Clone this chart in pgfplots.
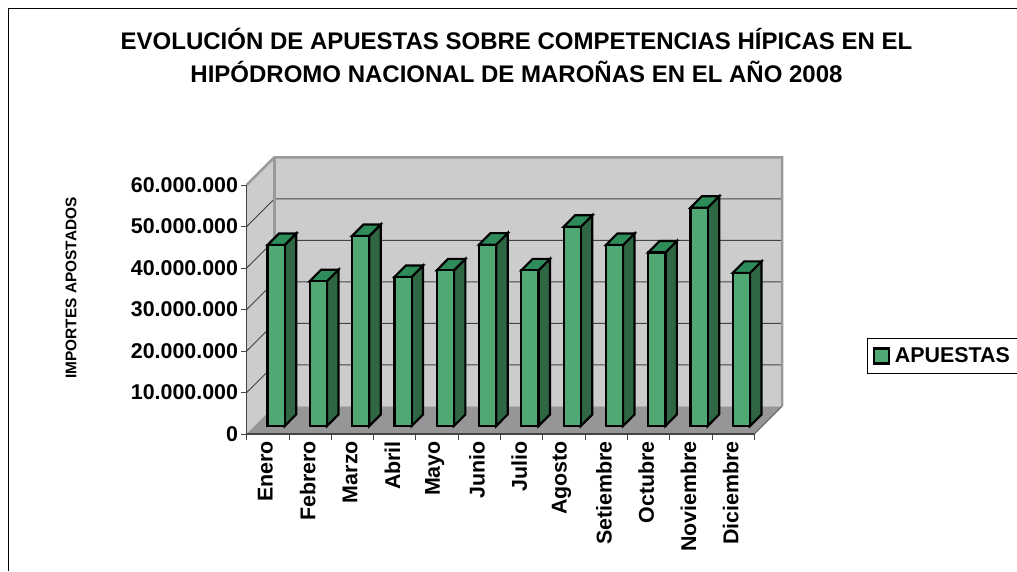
\documentclass[border=0pt]{standalone}
\usepackage{pgfplots}
\usepackage{pgfplotstable}
\usepackage{fontspec}
\setmainfont{Liberation Sans}
\pgfplotsset{compat=1.18}
\definecolor{frontc}{HTML}{50A874}
\definecolor{topc}{HTML}{2E8B5A}
\definecolor{sidec}{HTML}{2F6644}
\definecolor{wallc}{HTML}{CCCCCC}
\definecolor{floorc}{HTML}{969696}
\definecolor{edgec}{HTML}{9A9A9A}
\definecolor{gridc}{HTML}{444444}
% importes apostados, en millones
\pgfplotstableread{
i v
0 43.6
1 34.9
2 45.8
3 35.9
4 37.5
5 43.7
6 37.5
7 48.0
8 43.6
9 41.8
10 52.6
11 36.9
}\datos
\begin{document}
\begin{tikzpicture}[x=1pt,y=1pt]
\path[use as bounding box] (0,0) rectangle (1017,571);
\fill[white] (0,0) rectangle (1017,571);
\draw[black,line width=1pt] (8.5,0) -- (8.5,562.5) -- (1017,562.5);
\node[font=\fontsize{24}{33}\selectfont\bfseries,align=center,anchor=center] at (516.5,516)
 {EVOLUCIÓN DE APUESTAS SOBRE COMPETENCIAS HÍPICAS EN EL\\HIPÓDROMO NACIONAL DE MAROÑAS EN EL AÑO 2008};
\node[font=\fontsize{15.4}{18}\selectfont\bfseries,rotate=90,anchor=center] at (71,283) {IMPORTES APOSTADOS};
\begin{axis}[
  at={(246.7pt,137pt)},anchor=south west,scale only axis,
  width=507.6pt,height=249pt,
  xmin=0,xmax=12,ymin=0,ymax=60,clip=false,
  axis lines=left,axis line style={-,draw=gridc,line width=1.4pt},
  axis on top,
  xtick={0,...,12},xticklabels={},
  extra x ticks={0.5,1.5,...,11.5},
  extra x tick labels={Enero,Febrero,Marzo,Abril,Mayo,Junio,Julio,Agosto,Setiembre,Octubre,Noviembre,Diciembre},
  extra x tick style={major tick length=0pt,
    xticklabel style={rotate=90,anchor=east,xshift=-7pt,yshift=2.4pt,inner sep=0pt,
      font=\fontsize{21.4}{24}\selectfont\bfseries}},
  ytick={0,10,...,60},
  yticklabels={0,10.000.000,20.000.000,30.000.000,40.000.000,50.000.000,60.000.000},
  yticklabel style={font=\fontsize{21.4}{24}\selectfont\bfseries,inner sep=0pt,xshift=-3pt},
  tick align=outside,major tick length=5.5pt,
  tick style={draw=gridc,line width=1pt},
  legend style={at={(1.2226,0.3843)},anchor=north west,draw=black,line width=0.8pt,
    inner xsep=5pt,inner ysep=7pt,font=\fontsize{21.4}{24}\selectfont\bfseries},
]
\addlegendimage{legend image code/.code={\draw[fill=frontc,draw=black,line width=2.2pt] (0pt,-7.5pt) rectangle (15pt,7.5pt);}}
\addlegendentry{\hspace*{3pt}APUESTAS\hspace*{20pt}}
% paredes
\addplot[fill=wallc,draw=none,forget plot] coordinates {(0,0)(0.655,6.67)(12.655,6.67)(12.655,66.67)(0.655,66.67)(0,60)} -- cycle;
\addplot[fill=floorc,draw=none,forget plot] coordinates {(0,0)(0.655,6.67)(12.655,6.67)(12,0)} -- cycle;
% rejilla
\pgfplotsinvokeforeach{10,20,30,40,50}{
  \addplot[draw=gridc,line width=1pt,mark=none,forget plot] coordinates {(0,#1)(0.655,#1+6.67)(12.655,#1+6.67)};
}
\addplot[draw=edgec,line width=2.5pt,mark=none,forget plot] coordinates {(0,60)(0.655,66.67)(12.655,66.67)(12.655,6.67)};
\addplot[draw=edgec,line width=2.5pt,mark=none,forget plot] coordinates {(0.655,66.67)(0.655,6.67)};
\addplot[draw=gridc,line width=0.7pt,mark=none,forget plot] coordinates {(12,0)(12.655,6.67)};
% barras
\pgfplotsinvokeforeach{0,...,11}{
  \pgfplotstablegetelem{#1}{v}\of\datos
  \let\val\pgfplotsretval
  \pgfmathsetmacro\xa{#1+0.492}
  \pgfmathsetmacro\xb{\xa+0.407}
  \pgfmathsetmacro\xc{\xb+0.27}
  \pgfmathsetmacro\xd{\xa+0.27}
  \pgfmathsetmacro\ya{1.93}
  \pgfmathsetmacro\yb{1.93+2.77}
  \pgfmathsetmacro\yt{1.93+\val}
  \pgfmathsetmacro\yu{\yt+2.77}
  \edef\tmp{
    \noexpand\addplot[fill=sidec,draw=black,line width=2.2pt,mark=none,forget plot] coordinates {(\xb,\ya)(\xc,\yb)(\xc,\yu)(\xb,\yt)} -- cycle;
    \noexpand\addplot[fill=topc,draw=black,line width=2.2pt,mark=none,forget plot] coordinates {(\xa,\yt)(\xb,\yt)(\xc,\yu)(\xd,\yu)} -- cycle;
    \noexpand\addplot[fill=frontc,draw=black,line width=2.2pt,mark=none,forget plot] coordinates {(\xa,\ya)(\xb,\ya)(\xb,\yt)(\xa,\yt)} -- cycle;
  }
  \tmp
}
\end{axis}
\end{tikzpicture}
\end{document}
